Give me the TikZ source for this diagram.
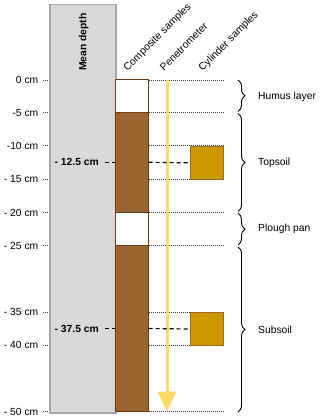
\documentclass[tikz,border=0pt]{standalone}
\usepackage{fontspec}
\setmainfont{Liberation Sans}
\usetikzlibrary{decorations.pathreplacing}
\definecolor{colgray}{HTML}{D9D9D9}
\definecolor{colgrayb}{HTML}{A6A6A6}
\definecolor{soil}{HTML}{996633}
\definecolor{soilb}{HTML}{6B3A10}
\definecolor{cyl}{HTML}{CC9900}
\definecolor{cylb}{HTML}{A0672C}
\definecolor{pen}{HTML}{FFD966}
\begin{document}
\begin{tikzpicture}[x=1pt,y=-1pt,
  font=\fontsize{10.3}{12}\selectfont,
  dotline/.style={draw=black!75,line width=0.9pt,dash pattern=on 1pt off 1pt},
  dashline/.style={draw=black,line width=1.2pt,dash pattern=on 4pt off 3pt},
  depthlbl/.style={anchor=base east,inner sep=0pt},
  boldlbl/.style={anchor=base east,inner sep=0pt,font=\fontsize{10.3}{12}\selectfont\bfseries},
  collbl/.style={anchor=base west,inner sep=0pt,rotate=45},
  layerlbl/.style={anchor=west,inner sep=0pt},
  bracestyle/.style={draw=black,line width=0.9pt,decorate,decoration={brace,amplitude=7pt}},
  soilbox/.style={fill=soil,draw=soilb,line width=1pt},
  emptybox/.style={fill=white,draw=soilb,line width=1pt},
  cylbox/.style={fill=cyl,draw=cylb,line width=1pt}]
\useasboundingbox (0,0) rectangle (320,419);
% dotted depth lines
\foreach \y in {80,112.7,145.7,179,212.3,245.7,312,345,411.7}
  \draw[dotline] (43,\y) -- (224,\y);
% gray column
\node[draw=colgrayb,fill=colgray,line width=1.5pt,minimum width=66pt,minimum height=408pt,inner sep=0pt,anchor=north west] (gray) at (49.3,4) {};
\node[rotate=90,anchor=base west,inner sep=0pt,font=\fontsize{10.3}{12}\selectfont\bfseries] (mean) at (86.3,71) {Mean depth};
% composite column
\path[emptybox] (115.3,80) rectangle (148.7,112.7);
\path[soilbox] (115.3,112.7) rectangle (148.7,212.3);
\path[emptybox] (115.3,212.3) rectangle (148.7,245.7);
\path[soilbox] (115.3,245.7) rectangle (148.7,411.7);
% penetrometer
\draw[pen,line width=3pt] (167,80) -- (167,392);
\fill[pen] (157.5,391.5) -- (176.5,391.5) -- (167,411.7) -- cycle;
% cylinder samples
\node[cylbox,minimum width=33.3pt,minimum height=33.3pt,inner sep=0pt,anchor=north west] (cyl1) at (190,145.7) {};
\node[cylbox,minimum width=33.3pt,minimum height=33pt,inner sep=0pt,anchor=north west] (cyl2) at (190,312) {};
% dashed mean-depth lines
\coordinate (d1) at (105,162.3);
\coordinate (d2) at (105,328.5);
\draw[dashline] (d1) -- (115.3,162.3);
\draw[dashline] (148.7,162.3) -- (cyl1.west);
\draw[dashline] (d2) -- (115.3,328.5);
\draw[dashline] (148.7,328.5) -- (cyl2.west);
\node[boldlbl] (m1) at (99,166) {- 12.5 cm};
\node[boldlbl] (m2) at (99,332.2) {- 37.5 cm};
% depth labels
\node[depthlbl] at (38.5,83.7) {0 cm};
\node[depthlbl] at (38.5,116.4) {-5 cm};
\node[depthlbl] at (38.5,149.4) {-10 cm};
\node[depthlbl] at (38.5,182.7) {- 15 cm};
\node[depthlbl] at (38.5,216) {- 20 cm};
\node[depthlbl] at (38.5,249.4) {- 25 cm};
\node[depthlbl] at (38.5,315.7) {- 35 cm};
\node[depthlbl] at (38.5,348.7) {- 40 cm};
\node[depthlbl] at (38.5,415.4) {- 50 cm};
% column headers
\node[collbl] at (127.5,71.5) {Composite samples};
\node[collbl] at (164,71.5) {Penetrometer};
\node[collbl] at (202.5,71.5) {Cylinder samples};
% braces
\draw[bracestyle] (238,80) -- (238,111.5);
\draw[bracestyle] (238,113.5) -- (238,211.5);
\draw[bracestyle] (238,213.3) -- (238,245);
\draw[bracestyle] (238,247) -- (238,412);
\node[layerlbl] at (258,97) {Humus layer};
\node[layerlbl] at (258,163) {Topsoil};
\node[layerlbl] at (258,229) {Plough pan};
\node[layerlbl] at (258,330) {Subsoil};
\end{tikzpicture}
\end{document}
